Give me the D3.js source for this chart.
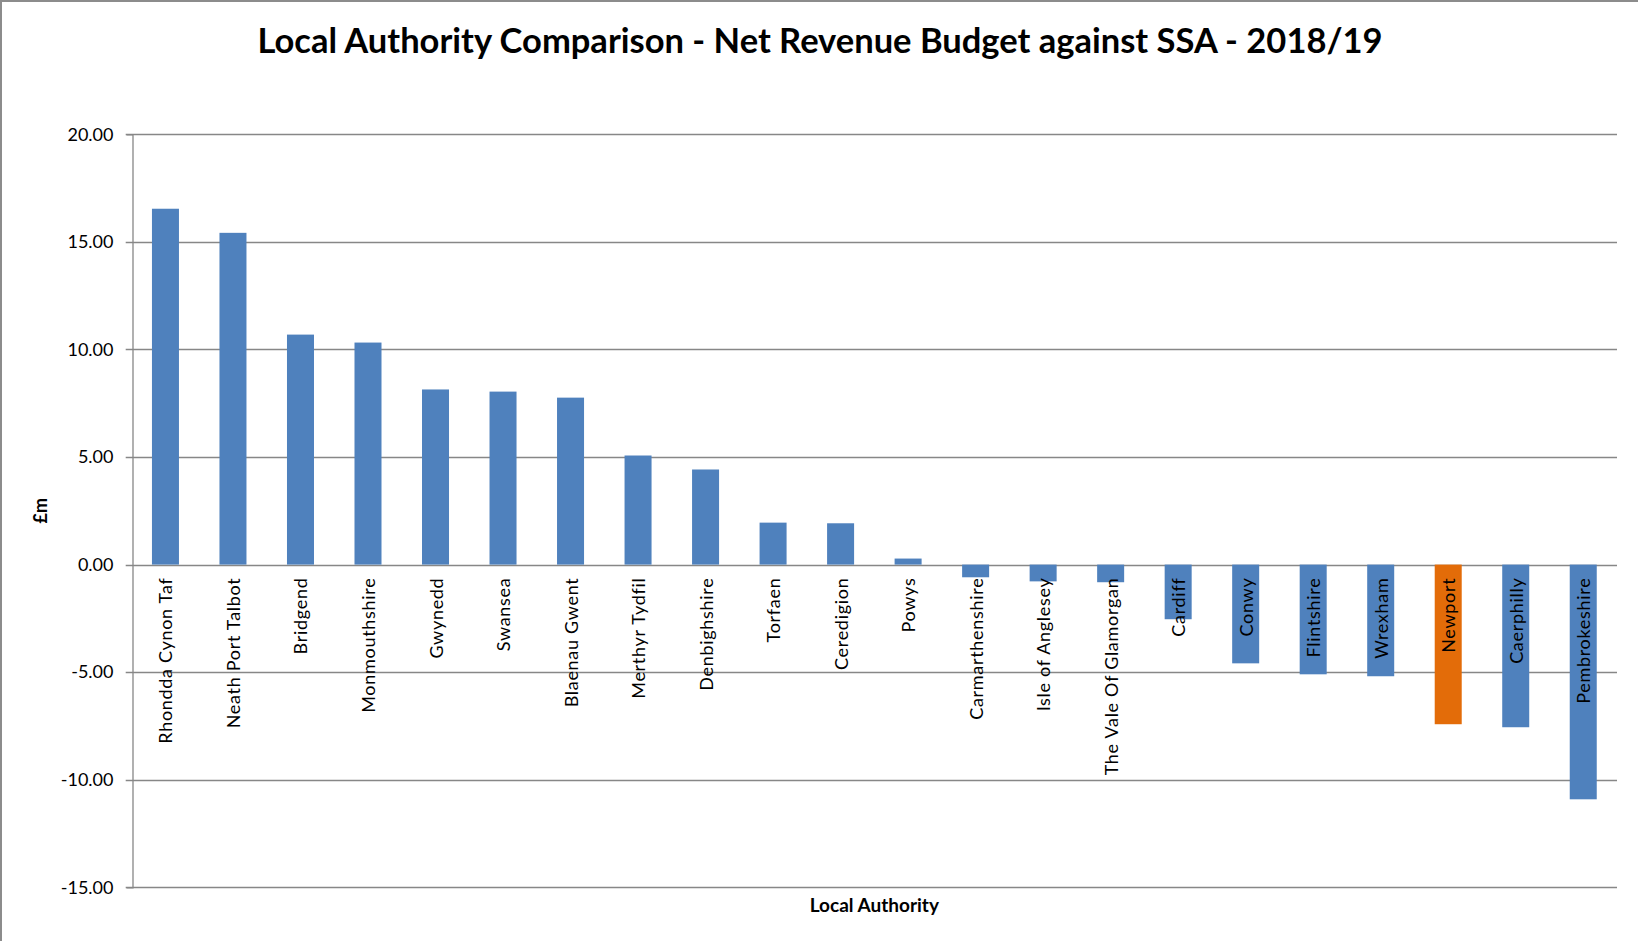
<!DOCTYPE html>
<html>
<head>
<meta charset="utf-8">
<script src="https://cdn.jsdelivr.net/npm/d3@7"></script>
<style>
  body { margin: 0; background: #fff; }
  svg { display: block; }
</style>
</head>
<body>
<div id="visbox"><svg width="1638" height="941"></svg></div>
<script>
// data (£m)
const authorities = [
  "Rhondda Cynon Taf", "Neath Port Talbot", "Bridgend", "Monmouthshire", "Gwynedd",
  "Swansea", "Blaenau Gwent", "Merthyr Tydfil", "Denbighshire", "Torfaen",
  "Ceredigion", "Powys", "Carmarthenshire", "Isle of Anglesey", "The Vale Of Glamorgan",
  "Cardiff", "Conwy", "Flintshire", "Wrexham", "Newport", "Caerphilly", "Pembrokeshire"
];
const values = [
  16.54, 15.42, 10.69, 10.32, 8.14,
  8.04, 7.76, 5.07, 4.42, 1.95,
  1.92, 0.28, -0.59, -0.78, -0.82,
  -2.54, -4.59, -5.10, -5.19, -7.42, -7.56, -10.91
];
const highlighted = "Newport";
const yTicks = [20, 15, 10, 5, 0, -5, -10, -15];

const title = "Local Authority Comparison - Net Revenue Budget against SSA - 2018/19";

const width = 1638, height = 941;
const margin = { top: 134.3, right: 21, bottom: 53.7, left: 131.7 };
const font = "Lato, 'Open Sans', sans-serif";

const svg = d3.select("#visbox").select("svg");

// chart border (left and top visible in the reference)
svg.append("path")
  .attr("d", `M1,${height} V1 H${width}`)
  .attr("fill", "none")
  .attr("stroke", "#8c8c8c")
  .attr("stroke-width", 2);

const data = authorities.map((name, i) => ({ name, value: values[i] }));

const x = d3.scaleBand()
  .domain(authorities)
  .range([margin.left, width - margin.right])
  .paddingInner(0.6)
  .paddingOuter(0.3);

const y = d3.scaleLinear()
  .domain([-15, 20])
  .range([height - margin.bottom, margin.top]);

// gridlines
svg.append("g")
  .selectAll("line")
  .data(yTicks)
  .join("line")
  .attr("x1", margin.left - 6)
  .attr("x2", width - margin.right)
  .attr("y1", d => Math.round(y(d)) + 0.5)
  .attr("y2", d => Math.round(y(d)) + 0.5)
  .attr("stroke", "#878787")
  .attr("stroke-width", 1.3);

// y axis
const yAxis = d3.axisLeft(y)
  .tickValues(yTicks)
  .tickFormat(d => d.toFixed(2))
  .tickSize(6)
  .tickPadding(13);

const yAxisGroup = svg.append("g")
  .attr("transform", `translate(${Math.round(margin.left) + 0.5},0)`)
  .call(yAxis);
yAxisGroup.select(".domain").attr("stroke", "#878787").attr("stroke-width", 1.3);
yAxisGroup.selectAll(".tick line").remove();
yAxisGroup.selectAll("text")
  .style("font-family", font)
  .style("font-size", "18px")
  .attr("fill", "#000");

// bars
svg.append("g")
  .selectAll("rect")
  .data(data)
  .join("rect")
  .attr("x", d => x(d.name))
  .attr("width", x.bandwidth())
  .attr("y", d => y(Math.max(0, d.value)))
  .attr("height", d => Math.abs(y(d.value) - y(0)))
  .attr("fill", d => d.name === highlighted ? "#E36C09" : "#4F81BD");

// category labels, rotated
svg.append("g")
  .selectAll("text")
  .data(authorities)
  .join("text")
  .attr("transform", d => `translate(${x(d) + x.bandwidth() / 2 + 7},${y(0) + 13}) rotate(-90)`)
  .attr("text-anchor", "end")
  .style("font-family", font)
  .style("font-size", "18px")
  .style("letter-spacing", "0.7px")
  .attr("fill", "#000")
  .text(d => d);

// title
svg.append("text")
  .attr("x", 820)
  .attr("y", 53)
  .attr("text-anchor", "middle")
  .style("font-family", font)
  .style("font-weight", "bold")
  .style("font-size", "34.5px")
  .attr("fill", "#000")
  .text(title);

// axis titles
svg.append("text")
  .attr("transform", `translate(47,${(margin.top + height - margin.bottom) / 2}) rotate(-90)`)
  .attr("text-anchor", "middle")
  .style("font-family", font)
  .style("font-weight", "bold")
  .style("font-size", "18px")
  .attr("fill", "#000")
  .text("£m");

svg.append("text")
  .attr("x", (margin.left + width - margin.right) / 2)
  .attr("y", 912)
  .attr("text-anchor", "middle")
  .style("font-family", font)
  .style("font-weight", "bold")
  .style("font-size", "19px")
  .attr("fill", "#000")
  .text("Local Authority");
</script>
</body>
</html>
